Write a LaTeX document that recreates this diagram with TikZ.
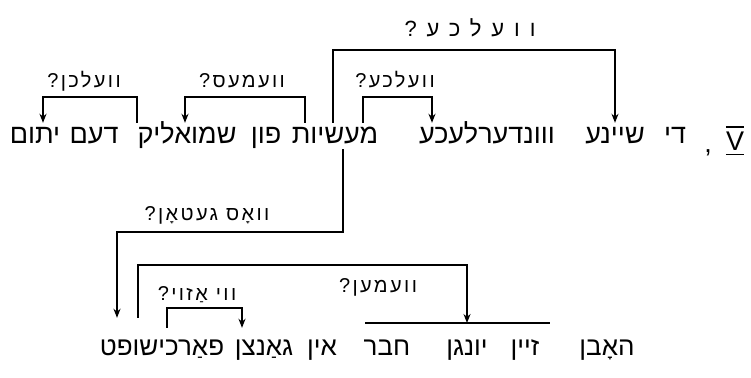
\documentclass[tikz,border=0pt]{standalone}
\usepackage{fontspec}
\newfontfamily\heb[Script=Hebrew]{Liberation Sans}
\newfontfamily\hebq[Script=Hebrew,LetterSpace=12]{Liberation Sans}
\newfontfamily\hebqw[Script=Hebrew,LetterSpace=45]{Liberation Sans}
\TeXXeTstate=1
\usetikzlibrary{arrows.meta}
\begin{document}
\begin{tikzpicture}[x=1pt,y=-1pt,
  wordA/.style={font=\heb\fontsize{27}{30}\selectfont, inner sep=0pt, text height=20pt, text depth=6pt, anchor=base},
  wordB/.style={wordA, font=\heb\fontsize{26}{30}\selectfont, text height=27pt},
  qlabel/.style={font=\hebq\fontsize{20}{22}\selectfont, inner sep=1pt, anchor=base},
  qwide/.style={qlabel, font=\hebqw\fontsize{22}{24}\selectfont},
  link/.style={line width=1.4pt},
  arr/.style={link, -{Stealth[length=9pt,width=7pt]}}]
\useasboundingbox (0,0) rectangle (751,377);
% first sentence, baseline 143
\node[wordA] (secV) at (735,150) {V};
\node[wordA] (cm) at (708,152) {,};
\node[wordA] (di) at (675,143) {\beginR די\endR};
\node[wordA] (sheyne) at (615,143) {\beginR שיינע\endR};
\node[wordA] (vunder) at (487,143) {\beginR ווונדערלעכע\endR};
\node[wordA] (mesiyes) at (335,143) {\beginR מעשיות\endR};
\node[wordA] (fun) at (266,143) {\beginR פון\endR};
\node[wordA] (shmuelik) at (187,143) {\beginR שמואליק\endR};
\node[wordA] (dem) at (94,143) {\beginR דעם\endR};
\node[wordA] (yosem) at (35,143) {\beginR יתום\endR};
\draw[link] ([yshift=3pt]secV.north west) -- ([yshift=3pt]secV.north east);
\draw[link] ([yshift=2pt]secV.south west) -- ([yshift=2pt]secV.south east);
% second sentence, baseline 355
\node[wordB] (hobn) at (607,355) {\beginR האָבן\endR};
\node[wordB] (zayn) at (525,355) {\beginR זיין\endR};
\node[wordB] (yungn) at (467,355) {\beginR יונגן\endR};
\node[wordB] (khaver) at (387,355) {\beginR חבר\endR};
\node[wordB] (in) at (322,355) {\beginR אין\endR};
\node[wordB] (gantsn) at (264,355) {\beginR גאַנצן\endR};
\node[wordB] (farkishuft) at (162,355) {\beginR פאַרכישופט\endR};
\coordinate (ol1) at (365,323);
\coordinate (ol2) at (550,323);
\draw[link] (ol1) -- (ol2);
% levels
\coordinate (h1) at (0,50);
\coordinate (h2) at (0,97);
\coordinate (h5) at (0,232);
\coordinate (h6) at (0,265);
\coordinate (h7) at (0,308);
% connectors
\draw[arr] ([xshift=-2pt]mesiyes.north) -- ([xshift=-2pt]mesiyes.north |- h1) -| (sheyne.north);
\draw[arr] ([xshift=28pt]mesiyes.north) -- ([xshift=28pt]mesiyes.north |- h2) -| ([xshift=-55pt]vunder.north);
\draw[arr] ([xshift=-30pt]mesiyes.north) -- ([xshift=-30pt]mesiyes.north |- h2) -| ([xshift=-2pt]shmuelik.north);
\draw[arr] ([xshift=-50pt]shmuelik.north) -- ([xshift=-50pt]shmuelik.north |- h2) -| ([xshift=8pt]yosem.north);
\draw[arr] ([xshift=8pt]mesiyes.south) -- ([xshift=8pt]mesiyes.south |- h5) -| ([xshift=-45pt,yshift=10pt]farkishuft.north);
\draw[arr] ([xshift=-24pt,yshift=10pt]farkishuft.north) -- ([xshift=-24pt]farkishuft.north |- h6) -| (ol1 -| yungn);
\draw[arr] ([xshift=5pt]farkishuft.north) -- ([xshift=5pt]farkishuft.north |- h7) -| ([xshift=-22pt]gantsn.north);
% labels
\node[qwide] (q1) at (470,37) {\beginR וועלכע?\endR};
\node[qlabel] (q2) at (395,88) {\beginR וועלכע?\endR};
\node[qlabel] (q3) at (242,88) {\beginR וועמעס?\endR};
\node[qlabel] (q4) at (84,88) {\beginR וועלכן?\endR};
\node[qlabel] (q5) at (207,220) {\beginR וואָס געטאָן?\endR};
\node[qlabel] (q6) at (378,292) {\beginR וועמען?\endR};
\node[qlabel] (q7) at (197,300) {\beginR ווי אַזוי?\endR};
\end{tikzpicture}
\end{document}
